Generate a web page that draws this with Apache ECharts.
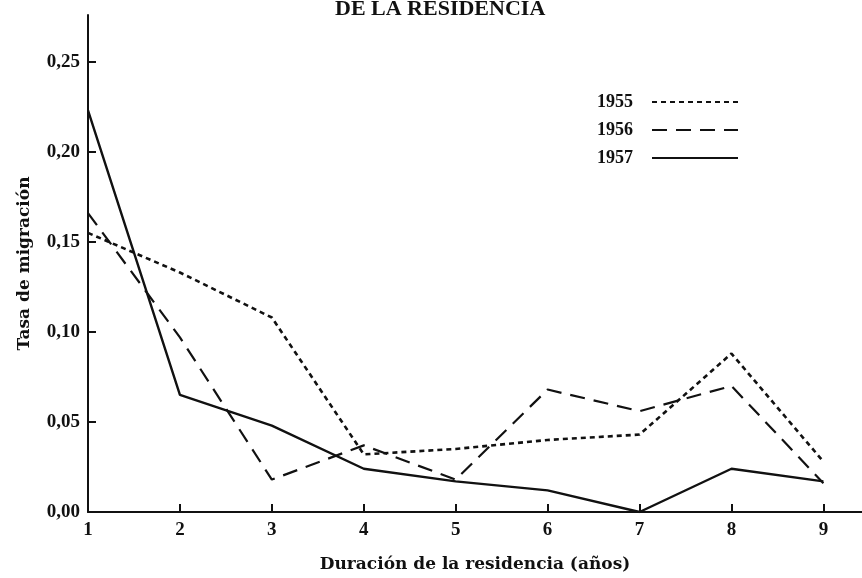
<!DOCTYPE html>
<html>
<head>
<meta charset="utf-8">
<script src="https://cdn.jsdelivr.net/npm/echarts@6/dist/echarts.min.js"></script>
<style>
  html, body { margin: 0; padding: 0; background: #fff; }
  #chart { width: 862px; height: 578px; }
</style>
</head>
<body>
<div id="chart"></div>
<script>
  // años de residencia
  const years = [1, 2, 3, 4, 5, 6, 7, 8, 9];
  const rate1955 = [0.155, 0.133, 0.108, 0.032, 0.035, 0.040, 0.043, 0.088, 0.028];
  const rate1956 = [0.166, 0.097, 0.018, 0.037, 0.018, 0.068, 0.056, 0.070, 0.016];
  const rate1957 = [0.223, 0.065, 0.048, 0.024, 0.017, 0.012, 0.000, 0.024, 0.017];
  const yTicks = [0, 0.05, 0.10, 0.15, 0.20, 0.25];
  const seriesNames = ["1955", "1956", "1957"];

  const digitFont = "'Liberation Serif', 'DejaVu Serif', serif";
  const wideFont = "'DejaVu Serif', 'Liberation Serif', serif";
  const ink = "#111";

  const pairs = (vals) => years.map((y, i) => [y, vals[i]]);

  const makeSeries = (name, vals, type, width) => ({
    name: name,
    type: "line",
    data: pairs(vals),
    symbol: "none",
    symbolSize: 0,
    lineStyle: { color: ink, width: width, type: type },
    itemStyle: { color: ink },
  });

  const option = {
    animation: false,
    title: {
      text: "DE LA RESIDENCIA",
      left: 330,
      top: -7,
      textStyle: { fontFamily: digitFont, fontWeight: "bold", fontSize: 22, color: ink },
    },
    legend: {
      orient: "vertical",
      left: 592,
      top: 88,
      align: "right",
      itemWidth: 86,
      itemHeight: 12,
      itemGap: 10,
      data: seriesNames,
      itemStyle: { opacity: 0 },
      textStyle: {
        fontFamily: digitFont,
        fontWeight: "bold",
        fontSize: 18,
        color: ink,
        padding: [0, 14, 0, 0],
      },
    },
    grid: { left: 88, right: 0, top: 15, bottom: 59, containLabel: false },
    xAxis: {
      type: "value",
      min: 1,
      max: 9.42,
      name: "Duración de la residencia (años)",
      nameLocation: "middle",
      nameGap: 44,
      nameTextStyle: { fontFamily: wideFont, fontWeight: "bold", fontSize: 17, color: ink },
      axisLine: { lineStyle: { color: ink, width: 2 } },
      axisTick: {
        inside: true,
        length: 8,
        lineStyle: { color: ink, width: 2 },
        customValues: years.slice(1),
      },
      axisLabel: {
        fontFamily: digitFont,
        fontWeight: "bold",
        fontSize: 19,
        color: ink,
        margin: 9,
        customValues: years,
      },
      splitLine: { show: false },
    },
    yAxis: {
      type: "value",
      min: 0,
      max: 0.276,
      name: "Tasa de migración",
      nameLocation: "middle",
      nameGap: 55,
      nameTextStyle: { fontFamily: wideFont, fontWeight: "bold", fontSize: 17, color: ink },
      axisLine: { show: true, lineStyle: { color: ink, width: 2 } },
      axisTick: {
        inside: true,
        length: 8,
        lineStyle: { color: ink, width: 2 },
        customValues: yTicks.slice(1),
      },
      axisLabel: {
        fontFamily: digitFont,
        fontWeight: "bold",
        fontSize: 19,
        color: ink,
        margin: 8,
        customValues: yTicks,
        formatter: (v) => v.toFixed(2).replace(".", ","),
      },
      splitLine: { show: false },
    },
    series: [
      makeSeries("1955", rate1955, [5, 4], 2.6),
      makeSeries("1956", rate1956, [15, 9], 2.2),
      makeSeries("1957", rate1957, "solid", 2.4),
    ],
  };

  const chart = echarts.init(document.getElementById("chart"));
  chart.setOption(option);
</script>
</body>
</html>
